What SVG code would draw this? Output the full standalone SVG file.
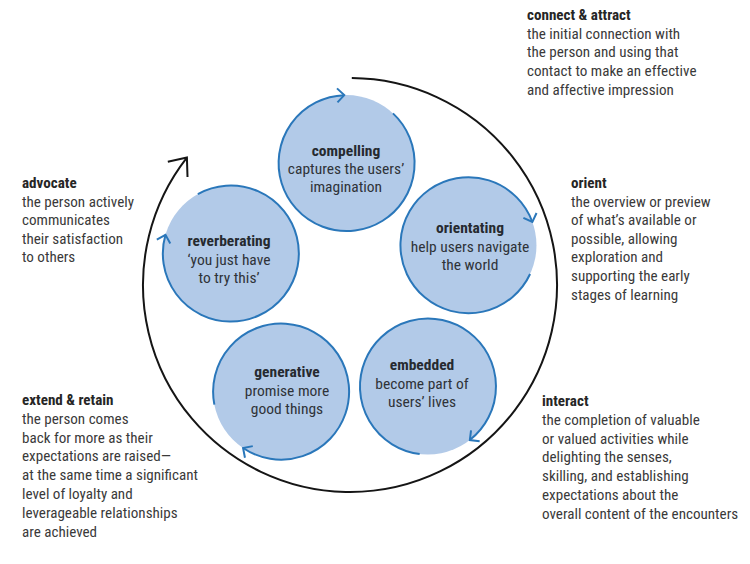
<svg xmlns="http://www.w3.org/2000/svg" width="750" height="564" viewBox="0 0 750 564">
<style>
text{font-family:"Roboto Condensed","Liberation Sans Narrow",Roboto,sans-serif;font-size:15.1px;fill:#3a3a3a}
.t{font-weight:bold;fill:#262626}
.c{text-anchor:middle;fill:#2f3338;font-size:15.5px}
.ct{text-anchor:middle;font-weight:bold;fill:#262a30;font-size:15.5px}
.node circle{fill:#b2cae8;stroke:none}
.node path{fill:none;stroke:#2a77ba;stroke-width:2;marker-end:url(#ab)}
#big{fill:none;stroke:#151515;stroke-width:2;marker-end:url(#ak)}
</style>
<defs>
<marker id="ab" markerUnits="userSpaceOnUse" markerWidth="20" markerHeight="20" viewBox="-10 -10 20 20" refX="0" refY="0" orient="auto" overflow="visible">
<path d="M-7,-7 L0,0 L-7,7" fill="none" stroke="#2a77ba" stroke-width="2"/>
</marker>
<marker id="ak" markerUnits="userSpaceOnUse" markerWidth="40" markerHeight="40" viewBox="-20 -20 40 40" refX="0" refY="0" orient="auto" overflow="visible">
<path d="M-15,-12.5 L0,0 L-15,12.5" fill="none" stroke="#151515" stroke-width="2"/>
</marker>
</defs>
<rect width="750" height="564" fill="#ffffff"/>
<g id="connectors">
<path id="big" d="M351.8,78 A207,207 0 1 1 186.9,157.55"/>
</g>
<g id="compelling" class="node">
<circle cx="346.6" cy="163.1" r="68"/>
<path d="M392.98,113.37 A68,68 0 1 1 344.23,95.14"/>
<text class="ct" x="346" y="156">compelling</text>
<text class="c" x="346" y="174">captures the users’</text>
<text class="c" x="346" y="192">imagination</text>
</g>
<g id="orientating" class="node">
<circle cx="468.46" cy="245.25" r="68"/>
<path d="M530.09,273.99 A68,68 0 1 1 532.36,221.99"/>
<text class="ct" x="470" y="233">orientating</text>
<text class="c" x="470" y="251.5">help users navigate</text>
<text class="c" x="470" y="270">the world</text>
</g>
<g id="embedded" class="node">
<circle cx="427.96" cy="386.5" r="68"/>
<path d="M419.67,453.99 A68,68 0 1 1 469.83,440.08"/>
<text class="ct" x="422" y="370">embedded</text>
<text class="c" x="422" y="388.5">become part of</text>
<text class="c" x="422" y="407">users’ lives</text>
</g>
<g id="generative" class="node">
<circle cx="281.1" cy="391.63" r="68"/>
<path d="M214.35,404.6 A68,68 0 1 1 243.07,448"/>
<text class="ct" x="287" y="377">generative</text>
<text class="c" x="287" y="395.5">promise more</text>
<text class="c" x="287" y="414">good things</text>
</g>
<g id="reverberating" class="node">
<circle cx="230.84" cy="253.55" r="68"/>
<path d="M197.87,194.08 A68,68 0 1 1 165.47,234.81"/>
<text class="ct" x="229" y="246">reverberating</text>
<text class="c" x="229" y="264.5">‘you just have</text>
<text class="c" x="229" y="283">to try this’</text>
</g>
<g id="connect-attract">
<text class="t" x="527" y="20">connect &amp; attract</text>
<text x="527" y="38.7">the initial connection with</text>
<text x="527" y="57.4">the person and using that</text>
<text x="527" y="76.1">contact to make an effective</text>
<text x="527" y="94.8">and affective impression</text>
</g>
<g id="orient">
<text class="t" x="571" y="188">orient</text>
<text x="571" y="206.6">the overview or preview</text>
<text x="571" y="225.2">of what’s available or</text>
<text x="571" y="243.8">possible, allowing</text>
<text x="571" y="262.4">exploration and</text>
<text x="571" y="281">supporting the early</text>
<text x="571" y="299.6">stages of learning</text>
</g>
<g id="interact">
<text class="t" x="542" y="406">interact</text>
<text x="542" y="424.8">the completion of valuable</text>
<text x="542" y="443.6">or valued activities while</text>
<text x="542" y="462.4">delighting the senses,</text>
<text x="542" y="481.2">skilling, and establishing</text>
<text x="542" y="500">expectations about the</text>
<text x="542" y="518.8">overall content of the encounters</text>
</g>
<g id="extend-retain">
<text class="t" x="22" y="405">extend &amp; retain</text>
<text x="22" y="423.8">the person comes</text>
<text x="22" y="442.6">back for more as their</text>
<text x="22" y="461.4">expectations are raised—</text>
<text x="22" y="480.2">at the same time a significant</text>
<text x="22" y="499">level of loyalty and</text>
<text x="22" y="517.8">leverageable relationships</text>
<text x="22" y="536.6">are achieved</text>
</g>
<g id="advocate">
<text class="t" x="22" y="188">advocate</text>
<text x="22" y="206.6">the person actively</text>
<text x="22" y="225.2">communicates</text>
<text x="22" y="243.8">their satisfaction</text>
<text x="22" y="262.4">to others</text>
</g>
</svg>
